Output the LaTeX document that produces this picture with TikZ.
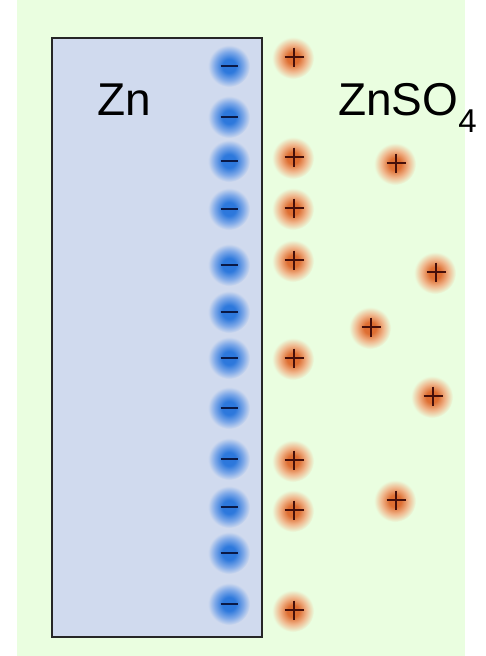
\documentclass[tikz,border=0pt]{standalone}
\usepackage{fontspec}
\setmainfont{Liberation Sans}

% palette
\definecolor{solution}{RGB}{234,254,224}
\definecolor{znfill}{RGB}{208,218,238}
\definecolor{minusdeep}{RGB}{45,120,220}
\definecolor{minusmid}{RGB}{125,168,232}
\definecolor{plusdeep}{RGB}{222,110,50}
\definecolor{plusmid}{RGB}{240,182,140}
\definecolor{minusbar}{RGB}{10,25,70}
\definecolor{plusbar}{RGB}{70,15,10}

% soft glows around the ions (the circle edge sits at 25bp)
\pgfdeclareradialshading{minusglow}{\pgfpoint{0bp}{0bp}}{%
  color(0bp)=(minusdeep); color(8bp)=(minusdeep); color(17bp)=(minusmid);
  color(25bp)=(znfill); color(50bp)=(znfill)}
\pgfdeclareradialshading{plusglow}{\pgfpoint{0bp}{0bp}}{%
  color(0bp)=(plusdeep); color(7bp)=(plusdeep); color(16bp)=(plusmid);
  color(25bp)=(solution); color(50bp)=(solution)}

\begin{document}
\begin{tikzpicture}[x=1pt,y=-1pt,
  electrode/.style={draw=black!85,line width=2.2pt},
  label/.style={anchor=base west,inner sep=0pt,font=\fontsize{46}{55}\selectfont},
  anion/.pic={
    \shade[shading=minusglow] (0,0) circle (21);
    \draw[minusbar,line width=2.8pt] (-8.5,0) -- (8.5,0);
  },
  cation/.pic={
    \shade[shading=plusglow] (-1,1) circle (21);
    \draw[plusbar,line width=2.6pt] (-9.5,0) -- (9.5,0) (0,-9.5) -- (0,9.5);
  }]
\useasboundingbox (0,0) rectangle (486,656);
\fill[white] (0,0) rectangle (486,656);
\fill[solution] (17,0) rectangle (465,656);

% zinc electrode
\fill[znfill] (52,38) rectangle (262,637);

% electrons held on the metal surface
\foreach \yy [count=\i] in {66,117,161,209,265,312,358,408,459,507,553,604}
  \pic (minus\i) at (229,\yy) {anion};

% zinc ions drawn to the surface
\foreach \yy [count=\i] in {57,157,208,260,358,460,510,610}
  \pic (plus\i) at (294,\yy) {cation};

% zinc ions further out in the solution
\foreach \xx/\yy [count=\i] in {396/163,436/272,371/327,433/396,396/500}
  \pic (free\i) at (\xx,\yy) {cation};

\draw[electrode] (52,38) rectangle (262,637);

\node[label] (zn) at (97,115) {Zn};
\node[label] (znso) at (338,115) {ZnSO\raisebox{-17pt}{\fontsize{33}{40}\selectfont 4}};
\end{tikzpicture}
\end{document}
